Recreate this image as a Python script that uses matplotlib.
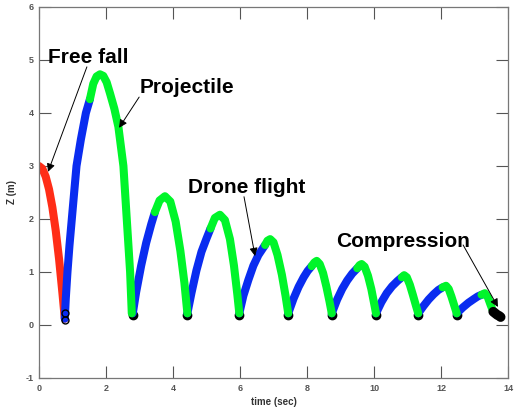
#Drone bounce trajectory - Z position vs time
import numpy as np
import matplotlib.pyplot as plt

plt.rcParams['font.family'] = ['Liberation Sans', 'DejaVu Sans']
plt.rcParams['axes.unicode_minus'] = False

#colours for each phase of motion
c_red = '#ff2d17'
c_blue = '#0a2cf0'
c_green = '#00f52a'

#free fall (red)
t_fall = [0, 0.1, 0.2, 0.3, 0.4, 0.5, 0.6, 0.7, 0.77]
z_fall = [3.0, 2.95, 2.80, 2.56, 2.22, 1.78, 1.24, 0.60, 0.12]

#drone flight segments (blue), one list per bounce
t_blue = [
    [0.77, 0.80, 0.85, 0.91, 0.98, 1.05, 1.12, 1.25, 1.40, 1.52],
    [2.80, 2.90, 3.05, 3.20, 3.35, 3.46],
    [4.43, 4.55, 4.70, 4.85, 5.00, 5.12],
    [5.98, 6.10, 6.25, 6.40, 6.55, 6.75],
    [7.44, 7.60, 7.75, 7.90, 8.02, 8.14],
    [8.74, 8.90, 9.05, 9.20, 9.35, 9.50],
    [10.06, 10.22, 10.38, 10.54, 10.70, 10.83],
    [11.32, 11.48, 11.63, 11.78, 11.92, 12.05],
    [12.47, 12.65, 12.82, 12.98, 13.10, 13.21],
]
z_blue = [
    [0.12, 0.5, 1.0, 1.5, 2.0, 2.5, 3.0, 3.5, 4.0, 4.26],
    [0.22, 0.62, 1.12, 1.55, 1.90, 2.13],
    [0.22, 0.60, 1.03, 1.38, 1.63, 1.82],
    [0.22, 0.55, 0.85, 1.12, 1.32, 1.51],
    [0.22, 0.50, 0.72, 0.90, 1.02, 1.11],
    [0.22, 0.48, 0.68, 0.84, 0.97, 1.07],
    [0.22, 0.43, 0.60, 0.73, 0.83, 0.90],
    [0.22, 0.36, 0.48, 0.58, 0.66, 0.71],
    [0.22, 0.33, 0.42, 0.49, 0.54, 0.57],
]

#projectile segments (green)
t_green = [
    [1.52, 1.62, 1.72, 1.82, 1.92, 2.02, 2.12, 2.25, 2.37, 2.52, 2.62, 2.72, 2.77],
    [3.46, 3.60, 3.76, 3.92, 4.08, 4.22, 4.34, 4.43],
    [5.12, 5.25, 5.40, 5.55, 5.70, 5.82, 5.92, 5.98],
    [6.75, 6.82, 6.90, 7.00, 7.12, 7.25, 7.36, 7.44],
    [8.14, 8.22, 8.29, 8.38, 8.48, 8.58, 8.67, 8.74],
    [9.50, 9.57, 9.63, 9.72, 9.82, 9.92, 10.00, 10.06],
    [10.83, 10.90, 10.98, 11.07, 11.16, 11.25, 11.32],
    [12.05, 12.15, 12.23, 12.31, 12.40, 12.47],
    [13.21, 13.31, 13.40, 13.48, 13.56],
]
z_green = [
    [4.26, 4.55, 4.69, 4.73, 4.70, 4.58, 4.37, 4.08, 3.74, 3.0, 2.0, 1.0, 0.22],
    [2.13, 2.35, 2.43, 2.33, 1.95, 1.40, 0.80, 0.22],
    [1.82, 2.02, 2.08, 1.98, 1.62, 1.12, 0.58, 0.22],
    [1.51, 1.59, 1.62, 1.56, 1.32, 0.95, 0.55, 0.22],
    [1.11, 1.18, 1.21, 1.15, 0.98, 0.72, 0.45, 0.22],
    [1.07, 1.13, 1.15, 1.10, 0.93, 0.68, 0.42, 0.22],
    [0.90, 0.94, 0.90, 0.76, 0.57, 0.37, 0.22],
    [0.71, 0.74, 0.68, 0.54, 0.36, 0.22],
    [0.57, 0.60, 0.52, 0.38, 0.25],
]

#ground contact points (black) and final compression
t_contact = [2.80, 4.43, 5.98, 7.44, 8.74, 10.06, 11.32, 12.47]
z_contact = [0.19, 0.19, 0.19, 0.19, 0.19, 0.19, 0.19, 0.19]
t_first = [0.78, 0.79]
z_first = [0.10, 0.22]
t_comp = [13.56, 13.62, 13.68, 13.74, 13.78]
z_comp = [0.25, 0.22, 0.19, 0.17, 0.15]

fig = plt.figure(figsize=(5.15, 4.11), dpi=100)
ax = fig.add_axes([0.0757, 0.0803, 0.9107, 0.9027])

lw = 5.8
ax.plot(t_contact, z_contact, 'o', color='k', markersize=6, zorder=1)
ax.plot(t_fall, z_fall, color=c_red, lw=lw, solid_capstyle='round', zorder=2)
for tb, zb, tg, zg in zip(t_blue, z_blue, t_green, z_green):
    ax.plot(tb, zb, color=c_blue, lw=lw, solid_capstyle='round', zorder=2)
    ax.plot(tg, zg, color=c_green, lw=lw, solid_capstyle='round', zorder=3)
ax.plot(t_first, z_first, 'o', mfc='none', mec='k', mew=1.0, markersize=5, zorder=4)
ax.plot(t_comp, z_comp, color='k', lw=7, solid_capstyle='round', zorder=4)

#annotations
tfont = dict(fontsize=15, fontweight='bold', color='k')
ax.text(0.27, 4.94, 'Free fall', **tfont)
ax.text(3.01, 4.38, 'Projectile', **tfont)
ax.text(4.45, 2.49, 'Drone flight', **tfont)
ax.text(8.87, 1.47, 'Compression', **tfont)
aprops = dict(arrowstyle='-|>', lw=0.7, color='k', mutation_scale=12, shrinkA=0, shrinkB=0)
ax.annotate('', xy=(0.27, 2.89), xytext=(1.43, 4.87), arrowprops=aprops)
ax.annotate('', xy=(2.39, 3.72), xytext=(2.99, 4.30), arrowprops=aprops)
ax.annotate('', xy=(6.45, 1.30), xytext=(6.12, 2.42), arrowprops=aprops)
ax.annotate('', xy=(13.70, 0.34), xytext=(12.66, 1.51), arrowprops=aprops)

ax.set_xlim(0, 14)
ax.set_ylim(-1, 6)
ax.set_xticks(np.arange(0, 15, 2))
ax.set_yticks(np.arange(-1, 7, 1))
ax.tick_params(direction='in', length=8.5, width=0.8, top=True, right=True,
               labelsize=6.5, colors='#555555', pad=4)
for lab in ax.get_xticklabels() + ax.get_yticklabels():
    lab.set_fontweight('bold')
for s in ax.spines.values():
    s.set_color('#777777')
    s.set_linewidth(0.9)
ax.set_xlabel('time (sec)', fontsize=7, fontweight='bold', color='#333333', labelpad=3)
ax.set_ylabel('Z (m)', fontsize=7, fontweight='bold', color='#333333', labelpad=6)

fig.savefig('out.png', dpi=100)
